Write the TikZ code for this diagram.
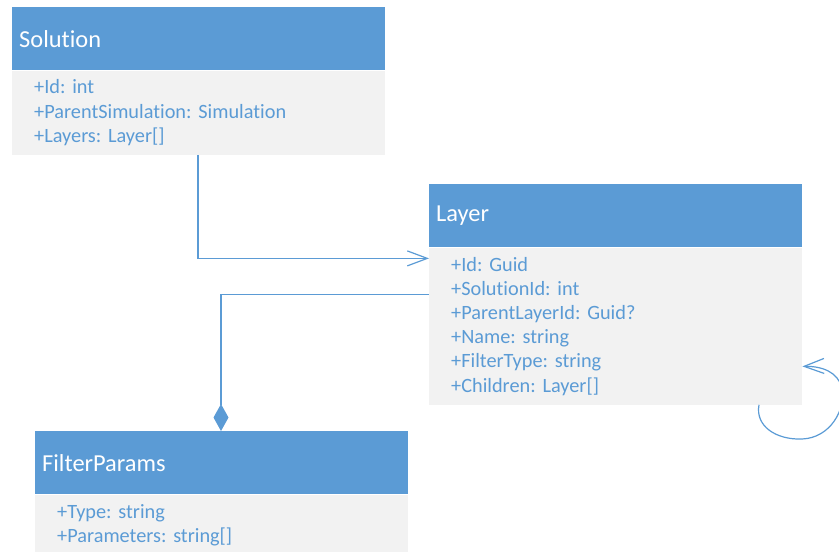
\documentclass[tikz,border=0pt]{standalone}
\usepackage{fontspec}
\setmainfont{Carlito}[RawFeature={-liga}]
\usetikzlibrary{arrows.meta,calc}
\definecolor{umlblue}{HTML}{5B9BD5}
\definecolor{umlbody}{HTML}{F2F2F2}
\frenchspacing
\tikzset{
  classhead/.style={rectangle, fill=umlblue, text=white, anchor=north west,
    minimum height=63pt, text width=359pt, inner xsep=7pt, inner ysep=0pt,
    align=left, font=\fontsize{24.4}{28}\selectfont},
  classbody/.style={rectangle, fill=umlbody, text=umlblue, anchor=north west,
    text width=329pt, inner xsep=22pt, inner ysep=0pt, align=left,
    font=\fontsize{20.3}{24.2}\selectfont},
  link/.style={draw=umlblue, line width=1.2pt},
  assoc/.style={link, -{Straight Barb[length=20pt, width=15pt, line width=1.2pt]}},
  compose/.style={link, -{Diamond[length=27pt, width=15pt, fill=umlblue]}},
}
\begin{document}
\begin{tikzpicture}[x=1pt, y=-1pt]
  \useasboundingbox (0,0) rectangle (839,552);
  \clip (0,0) rectangle (839,552);

  % Solution class
  \node[classhead] (solhead) at (12,7) {Solution};
  \node[classbody, minimum height=84pt] (solbody) at (solhead.south west)
    {+Id: int\\+ParentSimulation: Simulation\\+Layers: Layer[]};

  % Layer class
  \node[classhead] (layhead) at (429,184) {Layer};
  \node[classbody, minimum height=157pt] (laybody) at (layhead.south west)
    {+Id: Guid\\+SolutionId: int\\+ParentLayerId: Guid?\\+Name: string\\+FilterType: string\\+Children: Layer[]};

  % FilterParams class
  \node[classhead] (fphead) at (35,431) {FilterParams};
  \node[classbody, minimum height=62pt] (fpbody) at (fphead.south west)
    {+Type: string\\+Parameters: string[]};

  % Solution -> Layer association
  \coordinate (solout) at ($(solbody.south west)+(186,0)$);
  \coordinate (layin) at ($(laybody.north west)+(0,11)$);
  \draw[assoc] (solout) |- (layin);

  % Layer <>-- FilterParams composition
  \coordinate (layout) at ($(laybody.north west)+(0,47)$);
  \coordinate (fpin) at ($(fphead.north west)+(186,0)$);
  \draw[compose] (layout) -| (fpin);

  % Layer self reference (Children)
  \coordinate (loopout) at ($(laybody.south west)+(330,0)$);
  \coordinate (loopin) at ($(laybody.north east)+(0,119)$);
  \draw[assoc] (loopout) .. controls (755,426) and (776,440) .. (802,439)
    .. controls (830,438) and (846,410) .. (842,388)
    .. controls (838,372) and (822,366) .. (loopin);
\end{tikzpicture}
\end{document}
